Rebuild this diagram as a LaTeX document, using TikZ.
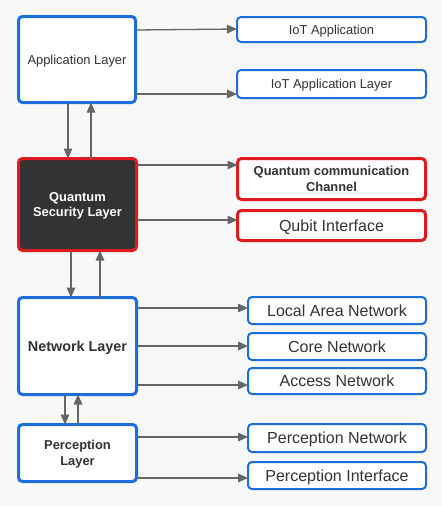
\documentclass[tikz,border=0pt]{standalone}
\usepackage{fontspec}
\setmainfont{Liberation Sans}
\usetikzlibrary{arrows.meta}
\definecolor{bg}{HTML}{F8F8F8}
\definecolor{lblue}{HTML}{1C6FDB}
\definecolor{lred}{HTML}{E01A1F}
\definecolor{dark}{HTML}{333333}
\definecolor{txt}{HTML}{333333}
\definecolor{arrc}{HTML}{666666}
\tikzset{
  every node/.style={inner sep=0pt, outer sep=0pt, text=txt, align=center, text depth=0pt},
  layer/.style={draw=lblue, line width=3pt, fill=white, rounded corners=4pt},
  qlayer/.style={draw=lred, line width=3pt, fill=dark, rounded corners=4pt, text=white},
  sub/.style={draw=lblue, line width=2pt, fill=white, rounded corners=4pt},
  qsub/.style={draw=lred, line width=3pt, fill=white, rounded corners=4pt},
  arr/.style={draw=arrc, line width=1.3pt, -{Triangle[length=10pt,width=8.5pt]}},
  fs13/.style={font=\fontsize{12.9}{15}\selectfont},
  fs16/.style={font=\fontsize{16}{19}\selectfont},
  fb13/.style={font=\fontsize{12.9}{15.5}\selectfont\bfseries},
  fb14/.style={font=\fontsize{14.4}{17}\selectfont\bfseries},
}
\begin{document}
\begin{tikzpicture}[x=1pt,y=-1pt]
\useasboundingbox[fill=bg] (0,0) rectangle (442,506);
% left layers
\node[layer, fs13, minimum width=117pt, minimum height=86pt] (app) at (77,59.5) {Application Layer};
\node[qlayer, fb13, minimum width=118pt, minimum height=92pt] (qsl) at (77.5,204.5) {Quantum\\Security Layer};
\node[layer, fb14, minimum width=118pt, minimum height=97pt] (net) at (77.5,346) {Network Layer};
\node[layer, fb13, minimum width=118pt, minimum height=57pt] (per) at (77.5,453) {Perception\\Layer};
% right boxes
\node[sub, fs13, minimum width=189pt, minimum height=25pt] (iota) at (331.5,29.5) {IoT Application};
\node[sub, fs13, minimum width=189pt, minimum height=28pt] (iotl) at (331.5,84) {IoT Application Layer};
\node[qsub, fb13, minimum width=188pt, minimum height=41pt] (qcc) at (331.5,179) {Quantum communication\\Channel};
\node[qsub, fs16, minimum width=188pt, minimum height=30pt] (qbi) at (331.5,225.5) {Qubit Interface};
\node[sub, fs16, minimum width=178pt, minimum height=27pt] (lan) at (337,310.5) {Local Area Network};
\node[sub, fs16, minimum width=178pt, minimum height=27pt] (core) at (337,346.5) {Core Network};
\node[sub, fs16, minimum width=178pt, minimum height=26pt] (acc) at (337,381) {Access Network};
\node[sub, fs16, minimum width=178pt, minimum height=28pt] (pnet) at (337,438) {Perception Network};
\node[sub, fs16, minimum width=178pt, minimum height=27pt] (pint) at (337,475.5) {Perception Interface};
% horizontal arrows
\draw[arr] (app.east |- 0,30) -- (iota.west |- 0,29);
\draw[arr] (app.east |- 0,94) -- (iotl.west |- 0,94);
\draw[arr] (qsl.east |- 0,165) -- (qcc.west |- 0,165);
\draw[arr] (qsl.east |- 0,220) -- (qbi.west |- 0,220);
\draw[arr] (net.east |- 0,308) -- (lan.west |- 0,308);
\draw[arr] (net.east |- 0,346) -- (core.west |- 0,346);
\draw[arr] (net.east |- 0,385) -- (acc.west |- 0,385);
\draw[arr] (per.east |- 0,437) -- (pnet.west |- 0,437);
\draw[arr] (per.east |- 0,478) -- (pint.west |- 0,478);
% vertical arrows
\draw[arr] (app.south -| 68,0) -- (qsl.north -| 68,0);
\draw[arr] (qsl.north -| 91,0) -- (app.south -| 91,0);
\draw[arr] (qsl.south -| 71,0) -- (net.north -| 71,0);
\draw[arr] (net.north -| 100,0) -- (qsl.south -| 100,0);
\draw[arr] (net.south -| 65,0) -- (per.north -| 65,0);
\draw[arr] (per.north -| 78,0) -- (net.south -| 78,0);
\end{tikzpicture}
\end{document}
